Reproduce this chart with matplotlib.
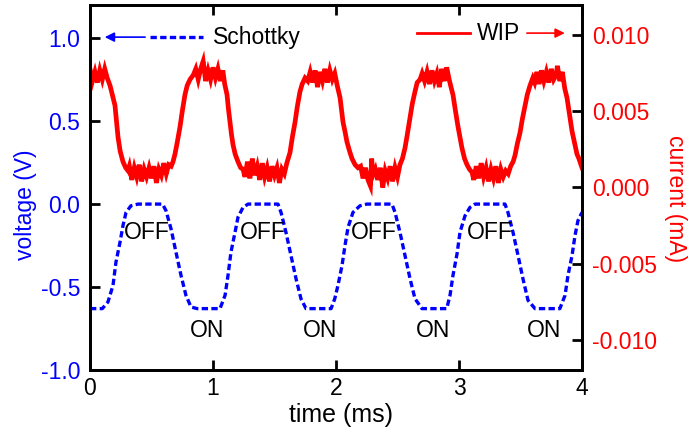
import matplotlib
matplotlib.use("Agg")
import matplotlib.pyplot as plt

plt.rcParams['font.family'] = ['Liberation Sans', 'DejaVu Sans']

# Schottky voltage trace (V) versus time (ms)
schottky_time_ms = [
    0.000, 0.100, 0.146, 0.187, 0.211, 0.244, 0.268, 0.293, 0.333, 0.390,
    0.590, 0.618, 0.659, 0.699, 0.740, 0.780, 0.821, 0.870,
    1.057, 1.098, 1.122, 1.146, 1.179, 1.203, 1.244, 1.285,
    1.528, 1.553, 1.593, 1.634, 1.675, 1.715, 1.756,
    1.960, 1.990, 2.016, 2.049, 2.073, 2.098, 2.138, 2.195, 2.250,
    2.455, 2.480, 2.520, 2.561, 2.602, 2.642, 2.699,
    2.900, 2.927, 2.951, 2.984, 3.008, 3.049, 3.089, 3.130,
    3.374, 3.398, 3.439, 3.480, 3.520, 3.561, 3.618,
    3.820, 3.862, 3.886, 3.919, 3.943, 3.967, 4.000,
]
schottky_voltage = [
    -0.63, -0.63, -0.59, -0.49, -0.35, -0.23, -0.13, -0.05, -0.01, 0.00,
    0.00, -0.04, -0.15, -0.29, -0.43, -0.55, -0.62, -0.63,
    -0.63, -0.55, -0.43, -0.29, -0.17, -0.08, -0.02, 0.00,
    0.00, -0.05, -0.17, -0.31, -0.45, -0.57, -0.63,
    -0.63, -0.57, -0.49, -0.37, -0.25, -0.14, -0.05, -0.01, 0.00,
    0.00, -0.05, -0.17, -0.31, -0.45, -0.57, -0.63,
    -0.63, -0.55, -0.43, -0.30, -0.17, -0.07, -0.02, 0.00,
    0.00, -0.05, -0.17, -0.31, -0.45, -0.58, -0.63,
    -0.63, -0.55, -0.43, -0.31, -0.19, -0.10, -0.05,
]

# WIP current trace (mA) versus time (ms)
wip_time_ms = [
    0.000, 0.020, 0.040, 0.060, 0.080, 0.100, 0.120, 0.140,
    0.163, 0.185, 0.203, 0.215, 0.228, 0.245, 0.268, 0.290, 0.309,
    0.320, 0.340, 0.360, 0.380, 0.400, 0.420, 0.440, 0.460, 0.480,
    0.500, 0.520, 0.540, 0.560, 0.580, 0.600, 0.620, 0.640,
    0.660, 0.675, 0.691, 0.710, 0.732, 0.750, 0.772, 0.790, 0.813, 0.840, 0.860,
    0.880, 0.900, 0.920, 0.940, 0.960, 0.980, 1.000, 1.020, 1.040, 1.060, 1.080,
    1.095, 1.114, 1.125, 1.138, 1.150, 1.163, 1.180, 1.203, 1.225, 1.244,
    1.260, 1.280, 1.300, 1.320, 1.340, 1.360, 1.380, 1.400, 1.420,
    1.440, 1.460, 1.480, 1.500, 1.520, 1.540, 1.560, 1.580,
    1.600, 1.626, 1.645, 1.667, 1.685, 1.707, 1.725, 1.748, 1.770, 1.790,
    1.810, 1.830, 1.850, 1.870, 1.890, 1.910, 1.930, 1.950, 1.970, 1.990,
    2.010, 2.033, 2.045, 2.057, 2.075, 2.089, 2.110, 2.130, 2.155, 2.179,
    2.200, 2.220, 2.240, 2.260, 2.280, 2.290, 2.300, 2.320, 2.340,
    2.360, 2.380, 2.400, 2.420, 2.440, 2.460, 2.480, 2.500, 2.520,
    2.540, 2.561, 2.580, 2.602, 2.620, 2.642, 2.660, 2.683, 2.700, 2.720, 2.740,
    2.760, 2.780, 2.800, 2.820, 2.840, 2.860, 2.880, 2.900, 2.920,
    2.935, 2.951, 2.970, 2.992, 3.008, 3.024, 3.045, 3.065, 3.085, 3.106,
    3.120, 3.140, 3.160, 3.180, 3.200, 3.220, 3.240, 3.260,
    3.280, 3.300, 3.320, 3.340, 3.360, 3.380, 3.400,
    3.420, 3.440, 3.455, 3.475, 3.496, 3.515, 3.537, 3.555, 3.577, 3.600, 3.615, 3.634,
    3.650, 3.670, 3.690, 3.710, 3.730, 3.750, 3.770, 3.790, 3.800, 3.820, 3.840,
    3.860, 3.878, 3.900, 3.919, 3.940, 3.959, 3.975, 3.992, 4.000,
]
wip_current_ma = [
    0.0078, 0.0070, 0.0076, 0.0069, 0.0077, 0.0071, 0.0078, 0.0072,
    0.0067, 0.0060, 0.0054, 0.0044, 0.0033, 0.0024, 0.0017, 0.0013, 0.0011,
    0.0014, 0.0005, 0.0013, 0.0007, 0.0015, 0.0004, 0.0012, 0.0007, 0.0013,
    0.0006, 0.0014, 0.0003, 0.0012, 0.0008, 0.0016, 0.0009, 0.0015,
    0.0014, 0.0017, 0.0022, 0.0030, 0.0040, 0.0050, 0.0061, 0.0067, 0.0071, 0.0074, 0.0078,
    0.0071, 0.0078, 0.0083, 0.0070, 0.0077, 0.0071, 0.0079, 0.0072, 0.0078, 0.0070, 0.0077,
    0.0068, 0.0061, 0.0052, 0.0043, 0.0035, 0.0028, 0.0022, 0.0017, 0.0013, 0.0012,
    0.0007, 0.0017, 0.0006, 0.0019, 0.0008, 0.0014, 0.0005, 0.0016, 0.0007,
    0.0013, 0.0004, 0.0014, 0.0008, 0.0013, 0.0003, 0.0012, 0.0009,
    0.0016, 0.0023, 0.0033, 0.0043, 0.0053, 0.0063, 0.0068, 0.0072, 0.0070, 0.0076,
    0.0069, 0.0077, 0.0066, 0.0076, 0.0070, 0.0078, 0.0069, 0.0077, 0.0071, 0.0075,
    0.0067, 0.0059, 0.0051, 0.0043, 0.0036, 0.0030, 0.0024, 0.0019, 0.0015, 0.0013,
    0.0014, 0.0006, 0.0013, 0.0005, 0.0001, 0.0019, 0.0008, 0.0012, 0.0005,
    0.0013, 0.0000, 0.0011, 0.0006, 0.0014, 0.0004, 0.0013, 0.0007, 0.0015,
    0.0019, 0.0026, 0.0035, 0.0046, 0.0055, 0.0063, 0.0069, 0.0071, 0.0075, 0.0070, 0.0076,
    0.0068, 0.0077, 0.0070, 0.0075, 0.0066, 0.0078, 0.0070, 0.0079, 0.0071,
    0.0066, 0.0061, 0.0051, 0.0040, 0.0033, 0.0026, 0.0019, 0.0015, 0.0012, 0.0010,
    0.0005, 0.0014, 0.0006, 0.0016, 0.0007, 0.0013, 0.0004, 0.0012,
    0.0006, 0.0014, 0.0003, 0.0012, 0.0007, 0.0011, 0.0009,
    0.0014, 0.0017, 0.0021, 0.0029, 0.0036, 0.0045, 0.0054, 0.0061, 0.0067, 0.0072, 0.0069, 0.0076,
    0.0068, 0.0077, 0.0070, 0.0076, 0.0069, 0.0078, 0.0071, 0.0074, 0.0080, 0.0070, 0.0076,
    0.0065, 0.0059, 0.0047, 0.0037, 0.0029, 0.0022, 0.0019, 0.0015, 0.0013,
]

# State annotations on the voltage trace
off_time_ms = [0.463, 1.402, 2.305, 3.252]
on_time_ms = [0.955, 1.870, 2.789, 3.695]
off_label_v = -0.21
on_label_v = -0.80

x_ticks = [0, 1, 2, 3, 4]
v_ticks = [-1.0, -0.5, 0.0, 0.5, 1.0]
i_ticks = [-0.010, -0.005, 0.000, 0.005, 0.010]

BLUE = '#0000ff'
RED = '#ff0000'
FS = 16.5

fig = plt.figure(figsize=(6.88, 4.48), dpi=100)
ax = fig.add_axes([90 / 688, 1 - 370 / 448, 492 / 688, 365 / 448])
ax2 = ax.twinx()

dash = (0, (1.9, 1.0))
ax.plot(schottky_time_ms, schottky_voltage, color=BLUE, lw=2.4, linestyle=dash)
ax2.plot(wip_time_ms, wip_current_ma, color=RED, lw=3.4, solid_joinstyle='miter')

ax.set_xlim(0, 4)
ax.set_ylim(-1.0, 1.2)
ax2.set_ylim(-0.012, 0.012)

ax.set_xticks(x_ticks)
ax.set_xticklabels([str(v) for v in x_ticks])
ax.set_yticks(v_ticks)
ax.set_yticklabels([f"{v:.1f}" for v in v_ticks])
ax2.set_yticks(i_ticks)
ax2.set_yticklabels([f"{v:.3f}" for v in i_ticks])

for a in (ax, ax2):
    for s in a.spines.values():
        s.set_linewidth(2.0)
ax.tick_params(axis='x', which='both', direction='in', length=7, width=2,
               top=True, bottom=True, labelsize=FS, pad=5)
ax.tick_params(axis='y', direction='in', length=7, width=2, left=True, right=False,
               labelsize=FS, labelcolor=BLUE, pad=7)
ax2.tick_params(axis='y', direction='in', length=7, width=2, right=True, left=False,
                labelsize=FS, labelcolor=RED, pad=7)

ax.set_xlabel("time (ms)", fontsize=18)
ax.xaxis.set_label_coords(0.51, -0.122)
ax.xaxis.label.set_verticalalignment('center')
ax.set_ylabel("voltage (V)", fontsize=FS, color=BLUE)
ax.yaxis.set_label_coords(-0.132, 0.452)
ax.yaxis.label.set_verticalalignment('center')
ax2.set_ylabel("current (mA)", fontsize=FS, color=RED, rotation=270)
ax2.yaxis.set_label_coords(1.191, 0.471)
ax2.yaxis.label.set_verticalalignment('center')

for t in off_time_ms:
    ax.text(t, off_label_v, "OFF", fontsize=FS, ha='center', va='baseline')
for t in on_time_ms:
    ax.text(t, on_label_v, "ON", fontsize=FS, ha='center', va='baseline')

# Series key with arrows pointing to the matching axis
ax.plot([0.122, 0.230], [0.912, 0.912], transform=ax.transAxes, color=BLUE,
        lw=2.4, linestyle=dash, clip_on=False)
ax.annotate("", xy=(0.030, 0.912), xytext=(0.112, 0.912), xycoords='axes fraction',
            arrowprops=dict(arrowstyle='-|>', color=BLUE, lw=1.2, mutation_scale=14,
                            shrinkA=0, shrinkB=0))
ax.text(0.250, 0.912, "Schottky", transform=ax.transAxes, fontsize=FS,
        ha='left', va='center')

ax2.plot([0.665, 0.772], [0.923, 0.923], transform=ax2.transAxes, color=RED,
         lw=2.0, clip_on=False)
ax2.text(0.787, 0.923, "WIP", transform=ax2.transAxes, fontsize=FS,
         ha='left', va='center')
ax2.annotate("", xy=(0.965, 0.923), xytext=(0.888, 0.923), xycoords='axes fraction',
             arrowprops=dict(arrowstyle='-|>', color=RED, lw=1.2, mutation_scale=14,
                             shrinkA=0, shrinkB=0))

fig.savefig("out.png", dpi=100)
